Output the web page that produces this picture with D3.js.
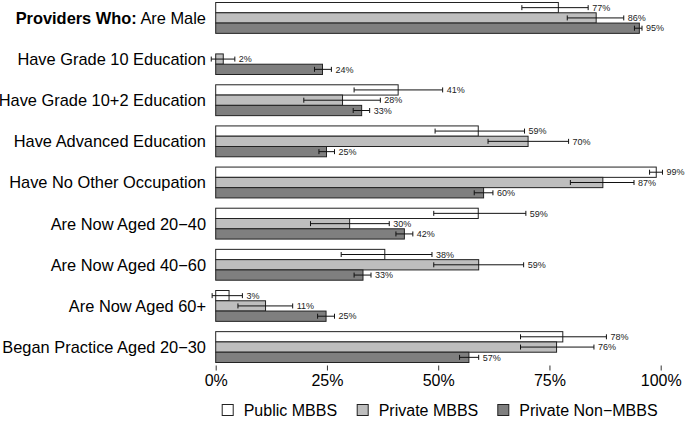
<!DOCTYPE html>
<html><head><meta charset="utf-8">
<script src="https://cdn.jsdelivr.net/npm/d3@7"></script>
<style>body{margin:0;background:#fff;}svg{display:block;font-family:"Liberation Sans",Arial,sans-serif;}</style>
</head><body><svg id="c" width="685" height="424"></svg>
<script>
const categories = ["Are Male","Have Grade 10 Education","Have Grade 10+2 Education","Have Advanced Education","Have No Other Occupation","Are Now Aged 20\u221240","Are Now Aged 40\u221260","Are Now Aged 60+","Began Practice Aged 20\u221230"];
const seriesNames = ["Public MBBS","Private MBBS","Private Non\u2212MBBS"];
const seriesColors = ["#ffffff","#bebebe","#7f7f7f"];
const publicMBBS    = [77, null, 41, 59, 99, 59, 38, 3, 78];
const publicLow     = [68.8, null, 31.1, 49.3, 97.5, 49.0, 28.2, -0.8, 68.5];
const publicHigh    = [83.7, null, 51.0, 69.4, 100.4, 69.7, 48.6, 6.0, 87.8];
const privateMBBS   = [85.5, 1.7, 28.5, 70.2, 87, 30.1, 59.1, 11.2, 76.6];
const privateLow    = [79.0, -1.0, 19.8, 61.2, 79.7, 21.3, 49.0, 5.0, 68.5];
const privateHigh   = [91.7, 4.3, 37.0, 79.3, 94.0, 39.0, 69.2, 17.3, 85.0];
const nonMBBS       = [95.2, 24, 32.8, 24.9, 60.2, 42.4, 33.1, 24.8, 56.9];
const nonLow        = [94.1, 22.2, 30.9, 23.2, 58.1, 40.5, 31.1, 22.9, 54.8];
const nonHigh       = [95.8, 26.0, 34.6, 26.7, 62.3, 44.3, 34.9, 26.7, 59.1];
const valueLabels = [
  ["77%", null, "41%", "59%", "99%", "59%", "38%", "3%", "78%"],
  ["86%", "2%", "28%", "70%", "87%", "30%", "59%", "11%", "76%"],
  ["95%", "24%", "33%", "25%", "60%", "42%", "33%", "25%", "57%"]
];
const xTicks = [0, 25, 50, 75, 100];

const series = [
  {vals: publicMBBS, lo: publicLow, hi: publicHigh},
  {vals: privateMBBS, lo: privateLow, hi: privateHigh},
  {vals: nonMBBS, lo: nonLow, hi: nonHigh}
];

const svg = d3.select("#c");
const x = d3.scaleLinear().domain([0, 100]).range([215.7, 660.7]);
const y = d3.scaleBand().domain(categories).range([2.5, 362.5]).paddingInner(0.25).paddingOuter(0);
const ySub = d3.scaleBand().domain(d3.range(3)).range([0, y.bandwidth()]);

// category labels
const lab = svg.append("g").selectAll("text").data(categories).join("text")
  .attr("x", 206).attr("y", d => y(d) + y.bandwidth()/2)
  .attr("dy", "0.36em").attr("text-anchor", "end")
  .attr("font-size", 16.4).attr("fill", "#000");
lab.each(function(d, i){
  const t = d3.select(this);
  if (i === 0) {
    t.append("tspan").attr("font-weight", "bold").text("Providers Who:");
    t.append("tspan").text(" " + d);
  } else t.text(d);
});

// bars
series.forEach((s, si) => {
  const g = svg.append("g");
  const idx = d3.range(categories.length).filter(i => s.vals[i] != null);
  g.selectAll("rect").data(idx).join("rect")
    .attr("x", x(0)).attr("y", i => y(categories[i]) + ySub(si))
    .attr("width", i => x(s.vals[i]) - x(0)).attr("height", ySub.bandwidth())
    .attr("fill", seriesColors[si]).attr("stroke", "#222").attr("stroke-width", 1);
  const eb = g.append("g").attr("stroke", "#111").attr("stroke-width", 1);
  idx.forEach(i => {
    const cy = y(categories[i]) + ySub(si) + ySub.bandwidth()/2;
    eb.append("line").attr("x1", x(s.lo[i])).attr("x2", x(s.hi[i])).attr("y1", cy).attr("y2", cy);
    eb.append("line").attr("x1", x(s.lo[i])).attr("x2", x(s.lo[i])).attr("y1", cy-2.5).attr("y2", cy+2.5);
    eb.append("line").attr("x1", x(s.hi[i])).attr("x2", x(s.hi[i])).attr("y1", cy-2.5).attr("y2", cy+2.5);
    g.append("text").attr("x", x(s.hi[i]) + 4).attr("y", cy).attr("dy", "0.36em")
      .attr("font-size", 9).attr("fill", "#222").text(valueLabels[si][i]);
  });
});

// x axis
const xa = svg.append("g").attr("transform", "translate(0,365.5)")
  .call(d3.axisBottom(x).tickValues(xTicks).tickFormat(d => d + "%").tickSize(5).tickPadding(4));
xa.select(".domain").remove();
xa.selectAll("line").attr("stroke", "#333");
xa.selectAll("text").attr("font-size", 16).attr("fill", "#000").attr("font-family", "Liberation Sans, Arial, sans-serif");

// legend
const legX = [221.7, 356.7, 497.3];
const leg = svg.append("g").selectAll("g").data(seriesNames).join("g")
  .attr("transform", (d, i) => `translate(${legX[i]},404)`);
leg.append("rect").attr("x", 0.5).attr("y", 0.5).attr("width", 11).attr("height", 11)
  .attr("fill", (d, i) => seriesColors[i]).attr("stroke", "#222");
leg.append("text").attr("x", 22).attr("y", 6).attr("dy", "0.36em").attr("font-size", 16).text(d => d);
</script></body></html>
